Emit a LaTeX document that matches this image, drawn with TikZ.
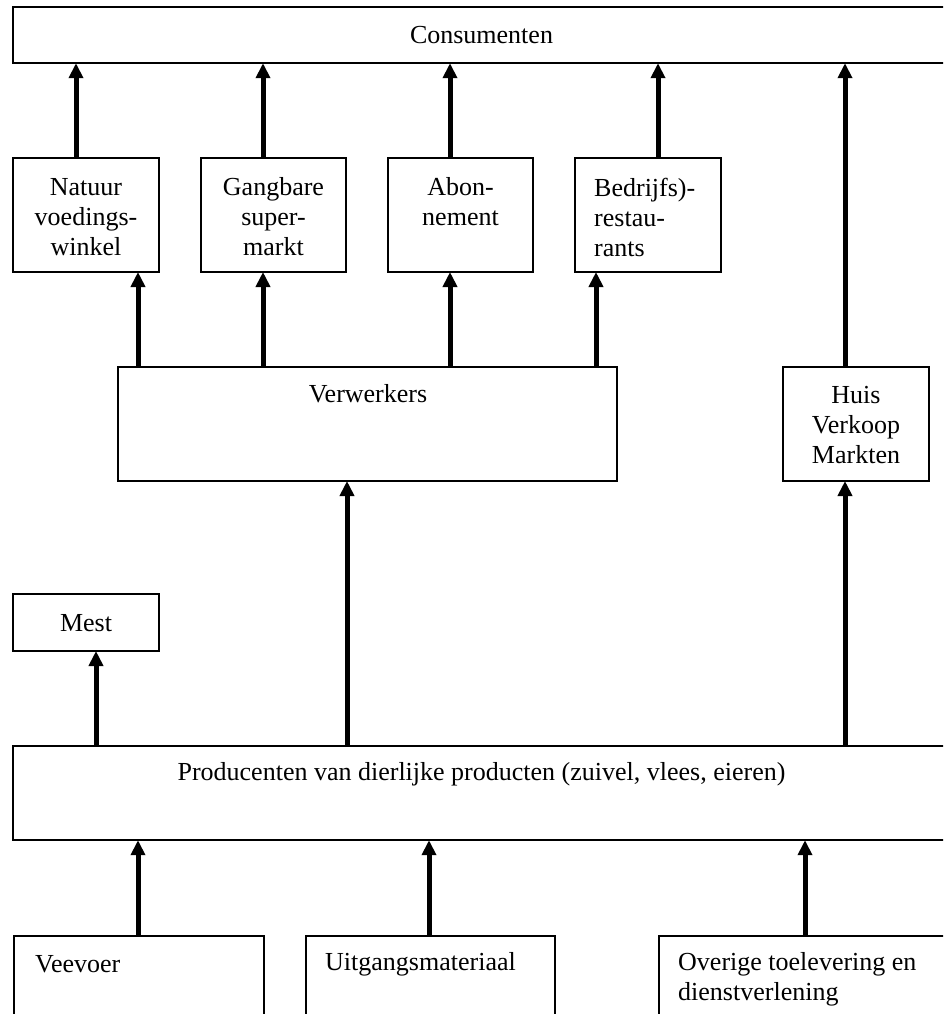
\documentclass[tikz,border=0pt]{standalone}
\usepackage{fontspec}
\setmainfont{Liberation Serif}
\usetikzlibrary{arrows.meta}
\begin{document}
\begin{tikzpicture}[x=1pt,y=-1pt,
  box/.style={draw, line width=1.6pt, inner sep=0pt},
  lbl/.style={font=\fontsize{26}{30}\selectfont, inner sep=0pt, align=center},
  lbll/.style={font=\fontsize{26}{30}\selectfont, inner sep=0pt, align=left, anchor=west},
  arr/.style={line width=5pt, -{Triangle[length=15pt,width=14pt]}, shorten >=-0.8pt}]
\useasboundingbox (0,0) rectangle (943,1014);
\clip (0,0) rectangle (943,1014);
\fill[white] (0,0) rectangle (943,1014);
% boxes
\node[box, line width=2pt, minimum width=937pt, minimum height=56pt] (cons) at (481.5,35) {};
\node[box, minimum width=146pt, minimum height=114pt] (nat) at (86,215) {};
\node[box, minimum width=145pt, minimum height=114pt] (gang) at (273.5,215) {};
\node[box, minimum width=145pt, minimum height=114pt] (abon) at (460.5,215) {};
\node[box, minimum width=146pt, minimum height=114pt] (bedr) at (648,215) {};
\node[box, minimum width=499pt, minimum height=114pt] (verw) at (367.5,424) {};
\node[box, minimum width=146pt, minimum height=114pt] (huis) at (856,424) {};
\node[box, minimum width=146pt, minimum height=57pt] (mest) at (86,622.5) {};
\node[box, line width=2pt, minimum width=937pt, minimum height=94pt] (prod) at (481.5,793) {};
\node[box, minimum width=250pt, minimum height=110pt, anchor=north west] (vee) at (13,935) {};
\node[box, minimum width=249pt, minimum height=110pt, anchor=north west] (uit) at (305,935) {};
\node[box, minimum width=300pt, minimum height=110pt, anchor=north west] (ove) at (658,935) {};
% texts
\node[lbl] (tcons) at (481.5,35) {Consumenten};
\node[lbl] (tnat) at (86,217) {Natuur\\voedings-\\winkel};
\node[lbl] (tgang) at (273.5,217) {Gangbare\\super-\\markt};
\node[lbl] (tabon) at (460.5,202) {Abon-\\nement};
\node[lbll] (tbedr) at (594,217) {Bedrijfs)-\\restau-\\rants};
\node[lbl] (tverw) at (368,394) {Verwerkers};
\node[lbl] (thuis) at (856,425) {Huis\\Verkoop\\Markten};
\node[lbl] (tmest) at (86,623) {Mest};
\node[lbl] (tprod) at (481.5,774) {Producenten van dierlijke producten (zuivel, vlees, eieren)};
\node[lbll] (tvee) at (35,964) {Veevoer};
\node[lbll] (tuit) at (325,964) {Uitgangsmateriaal};
\node[lbll] (tove) at (678,979) {Overige toelevering en\\dienstverlening};
% x positions
\coordinate (a1) at (76,0);
\coordinate (a2) at (263,0);
\coordinate (a3) at (450,0);
\coordinate (a4) at (658,0);
\coordinate (a5) at (845,0);
\coordinate (b1) at (138,0);
\coordinate (b4) at (596,0);
\coordinate (c1) at (96,0);
\coordinate (c2) at (347,0);
\coordinate (d1) at (138,0);
\coordinate (d2) at (429,0);
\coordinate (d3) at (805,0);
% arrows
\draw[arr] (nat.north -| a1) -- (cons.south -| a1);
\draw[arr] (gang.north -| a2) -- (cons.south -| a2);
\draw[arr] (abon.north -| a3) -- (cons.south -| a3);
\draw[arr] (bedr.north -| a4) -- (cons.south -| a4);
\draw[arr] (huis.north -| a5) -- (cons.south -| a5);
\draw[arr] (verw.north -| b1) -- (nat.south -| b1);
\draw[arr] (verw.north -| a2) -- (gang.south -| a2);
\draw[arr] (verw.north -| a3) -- (abon.south -| a3);
\draw[arr] (verw.north -| b4) -- (bedr.south -| b4);
\draw[arr] (prod.north -| c1) -- (mest.south -| c1);
\draw[arr] (prod.north -| c2) -- (verw.south -| c2);
\draw[arr] (prod.north -| a5) -- (huis.south -| a5);
\draw[arr] (vee.north -| d1) -- (prod.south -| d1);
\draw[arr] (uit.north -| d2) -- (prod.south -| d2);
\draw[arr] (ove.north -| d3) -- (prod.south -| d3);
\end{tikzpicture}
\end{document}
